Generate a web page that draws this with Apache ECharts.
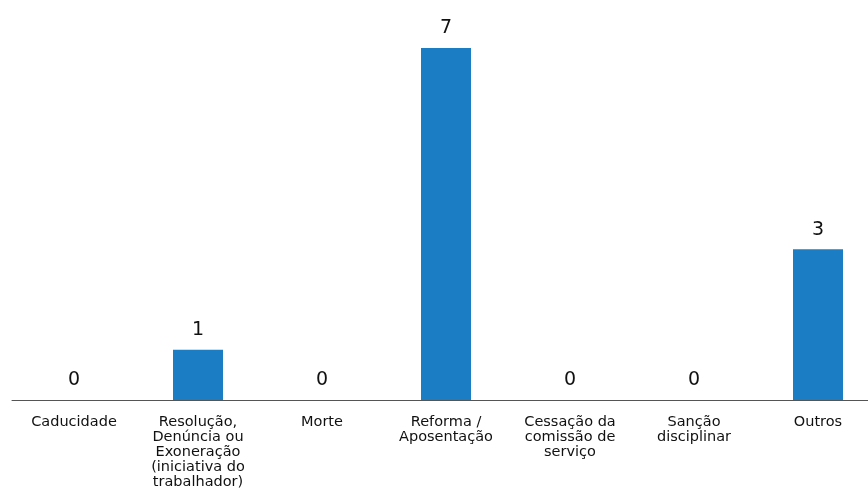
<!DOCTYPE html>
<html><head><meta charset="utf-8">
<script src="https://cdn.jsdelivr.net/npm/echarts@6/dist/echarts.min.js"></script>
<style>html,body{margin:0;padding:0;background:#fff;overflow:hidden}#c{width:880px;height:503px}</style>
</head><body><div id="c"></div>
<script>
const categories = ["Caducidade", "Resolução,\nDenúncia ou\nExoneração\n(iniciativa do\ntrabalhador)", "Morte", "Reforma /\nAposentação", "Cessação da\ncomissão de\nserviço", "Sanção\ndisciplinar", "Outros"];
const values = [0, 1, 0, 7, 0, 0, 3];

const chart = echarts.init(document.getElementById('c'), null, {renderer: 'canvas'});
chart.setOption({
  animation: false,
  grid: {left: 12, right: 0, top: 48, height: 352, containLabel: false},
  xAxis: {
    type: 'category', data: categories,
    axisLine: {lineStyle: {color: '#555', width: 1}},
    axisTick: {show: false},
    axisLabel: {interval: 0, color: '#111', fontFamily: 'DejaVu Sans', fontSize: 14.5, lineHeight: 15, margin: 15}
  },
  yAxis: {type: 'value', min: 0, max: 7, show: false, splitLine: {show: false}},
  series: [{
    type: 'bar', data: values, barWidth: 50,
    itemStyle: {color: '#1b7ec5'},
    label: {show: true, position: 'top', distance: 10, color: '#111', fontFamily: 'DejaVu Sans', fontSize: 19}
  }]
});
</script></body></html>
